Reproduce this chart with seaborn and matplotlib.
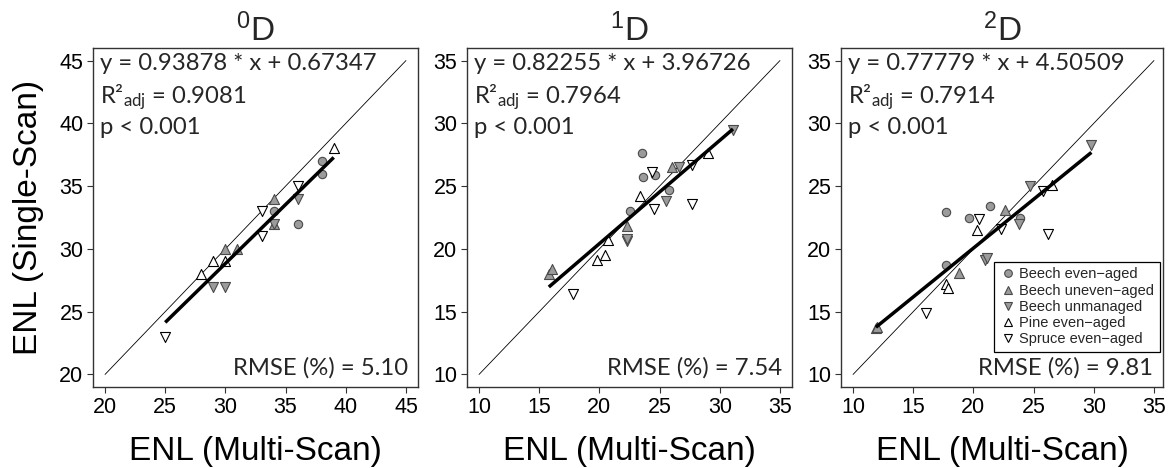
import numpy as np
import pandas as pd
import matplotlib
matplotlib.use("Agg")
import matplotlib.pyplot as plt
import seaborn as sns
from matplotlib.lines import Line2D

# Stand types
groups = ["Beech even−aged", "Beech uneven−aged", "Beech unmanaged",
          "Pine even−aged", "Spruce even−aged"]

# Diversity order 0 (0D)
d0_group = [0, 0, 0, 0,
            1, 1, 1, 1,
            2, 2, 2, 2,
            3, 3, 3, 3,
            4, 4, 4, 4]
d0_x = [34, 36, 38, 38,
        30, 31, 34, 34,
        29, 30, 34, 36,
        28, 29, 30, 39,
        25, 33, 33, 36]
d0_y = [33, 32, 37, 36,
        30, 30, 34, 32,
        27, 27, 32, 34,
        28, 29, 29, 38,
        23, 33, 31, 35]

# Diversity order 1 (1D)
d1_group = [0, 0, 0, 0, 0,
            1, 1, 1, 1,
            2, 2, 2, 2, 2,
            3, 3, 3, 3, 3,
            4, 4, 4, 4, 4]
d1_x = [22.5, 23.5, 23.6, 24.6, 25.8,
        15.8, 16.1, 22.3, 26.0,
        22.3, 22.3, 25.5, 26.6, 31.1,
        19.8, 20.5, 20.7, 23.4, 29.0,
        17.8, 24.4, 24.5, 27.7, 27.7]
d1_y = [23.0, 27.6, 25.7, 25.9, 24.7,
        18.0, 18.4, 21.8, 26.5,
        20.6, 20.8, 23.8, 26.5, 29.5,
        19.1, 19.5, 20.7, 24.2, 27.6,
        16.4, 26.1, 23.2, 26.7, 23.6]

# Diversity order 2 (2D)
d2_group = [0, 0, 0, 0, 0,
            1, 1, 1, 1,
            2, 2, 2, 2, 2,
            3, 3, 3, 3,
            4, 4, 4, 4, 4]
d2_x = [17.7, 17.7, 19.6, 21.4, 23.9,
        11.9, 12.0, 18.8, 22.6,
        21.0, 21.1, 23.8, 24.7, 29.8,
        17.7, 17.85, 20.3, 26.5,
        16.1, 20.5, 22.3, 25.8, 26.2]
d2_y = [18.7, 22.9, 22.5, 23.4, 22.5,
        13.7, 13.8, 18.1, 23.1,
        19.1, 19.3, 22.0, 25.0, 28.3,
        17.2, 16.9, 21.5, 25.1,
        14.9, 22.4, 21.6, 24.6, 21.2]

# Fit statistics per panel
titles = [r"$^{0}$D", r"$^{1}$D", r"$^{2}$D"]
slopes = [0.93878, 0.82255, 0.77779]
intercepts = [0.67347, 3.96726, 4.50509]
r2_labels = ["0.9081", "0.7964", "0.7914"]
rmse_labels = ["5.10", "7.54", "9.81"]
tick_values = [[20, 25, 30, 35, 40, 45],
               [10, 15, 20, 25, 30, 35],
               [10, 15, 20, 25, 30, 35]]

panels = [(d0_group, d0_x, d0_y), (d1_group, d1_x, d1_y), (d2_group, d2_x, d2_y)]

# Marker style per stand type
gray_fill, gray_edge = "#9b9b9b", "#4a4a4a"
markers = ["o", "^", "v", "^", "v"]
faces = [gray_fill, gray_fill, gray_fill, "white", "white"]
edges = [gray_edge, gray_edge, gray_edge, "black", "black"]
sizes = [36, 52, 52, 52, 52]

sns.set_theme(style="ticks")
plt.rcParams["font.family"] = ["Liberation Sans", "DejaVu Sans"]
plt.rcParams["mathtext.default"] = "regular"

W, H = 1171, 468
fig = plt.figure(figsize=(W / 100, H / 100), dpi=100)
boxes = [(93, 418), (467, 792), (841, 1163)]
top, bottom = 48, 387
xlims = [(19, 46), (9, 36), (9, 35.75)]
ylims = [(19, 46), (9, 36), (9, 36)]
ann_font = ["Lato", "DejaVu Sans"]

for i, (grp, xs, ys) in enumerate(panels):
    l, r = boxes[i]
    ax = fig.add_axes([l / W, 1 - bottom / H, (r - l) / W, (bottom - top) / H])
    df = pd.DataFrame({"x": xs, "y": ys, "g": grp})

    lo, hi = tick_values[i][0], tick_values[i][-1]
    ax.plot([lo, hi], [lo, hi], color="black", lw=0.6, zorder=2)

    for g in range(len(groups)):
        sub = df[df["g"] == g]
        sns.scatterplot(data=sub, x="x", y="y", marker=markers[g], s=sizes[g],
                        color=faces[g], edgecolor=edges[g], linewidth=0.8,
                        ax=ax, legend=False, zorder=3)

    fx = np.array([df["x"].min(), df["x"].max()])
    ax.plot(fx, slopes[i] * fx + intercepts[i], color="black", lw=2.5,
            solid_capstyle="butt", zorder=4)

    ax.set_xlim(*xlims[i])
    ax.set_ylim(*ylims[i])
    ax.set_xticks(tick_values[i])
    ax.set_yticks(tick_values[i])
    ax.tick_params(direction="out", length=4.5, width=0.8, labelsize=15.5,
                   pad=2.5, color="#333333", labelcolor="black")
    for s in ax.spines.values():
        s.set_linewidth(1.0)
        s.set_color("#333333")
        s.set_visible(True)

    ax.set_title(titles[i], fontsize=24, pad=3)
    ax.set_xlabel("ENL (Multi-Scan)", fontsize=24, labelpad=13, color="black")
    if i == 0:
        ax.set_ylabel("ENL (Single-Scan)", fontsize=24, labelpad=11, color="black")
    else:
        ax.set_ylabel("")

    pw = r - l
    ax.text(7 / pw, 1 - 15 / 339, f"y = {slopes[i]:.5f} * x + {intercepts[i]:.5f}",
            transform=ax.transAxes, ha="left", va="center", fontsize=17.2,
            family=ann_font)
    ax.text(7 / pw, 1 - 49 / 339, r"R²$_{adj}$ = " + r2_labels[i],
            transform=ax.transAxes, ha="left", va="center", fontsize=17.2,
            family=ann_font)
    ax.text(7 / pw, 1 - 80 / 339, "p < 0.001",
            transform=ax.transAxes, ha="left", va="center", fontsize=17.2,
            family=ann_font)
    ax.text(1 - 10 / pw, 19 / 339, f"RMSE (%) = {rmse_labels[i]}",
            transform=ax.transAxes, ha="right", va="center", fontsize=17.2,
            family=ann_font)

    if i == 2:
        handles = [Line2D([], [], marker=markers[g], ls="none",
                          markerfacecolor=faces[g], markeredgecolor=edges[g],
                          markeredgewidth=0.8, markersize=5.5)
                   for g in range(len(groups))]
        leg = ax.legend(handles, groups, loc="lower right",
                        bbox_to_anchor=(0.991, 0.103), borderaxespad=0,
                        fontsize=10.5, frameon=True, fancybox=False,
                        edgecolor="black", framealpha=1, borderpad=0.4,
                        handletextpad=0.3, handlelength=1.0, labelspacing=0.15)
        leg.get_frame().set_linewidth(0.9)

fig.savefig("out.png", dpi=100)
